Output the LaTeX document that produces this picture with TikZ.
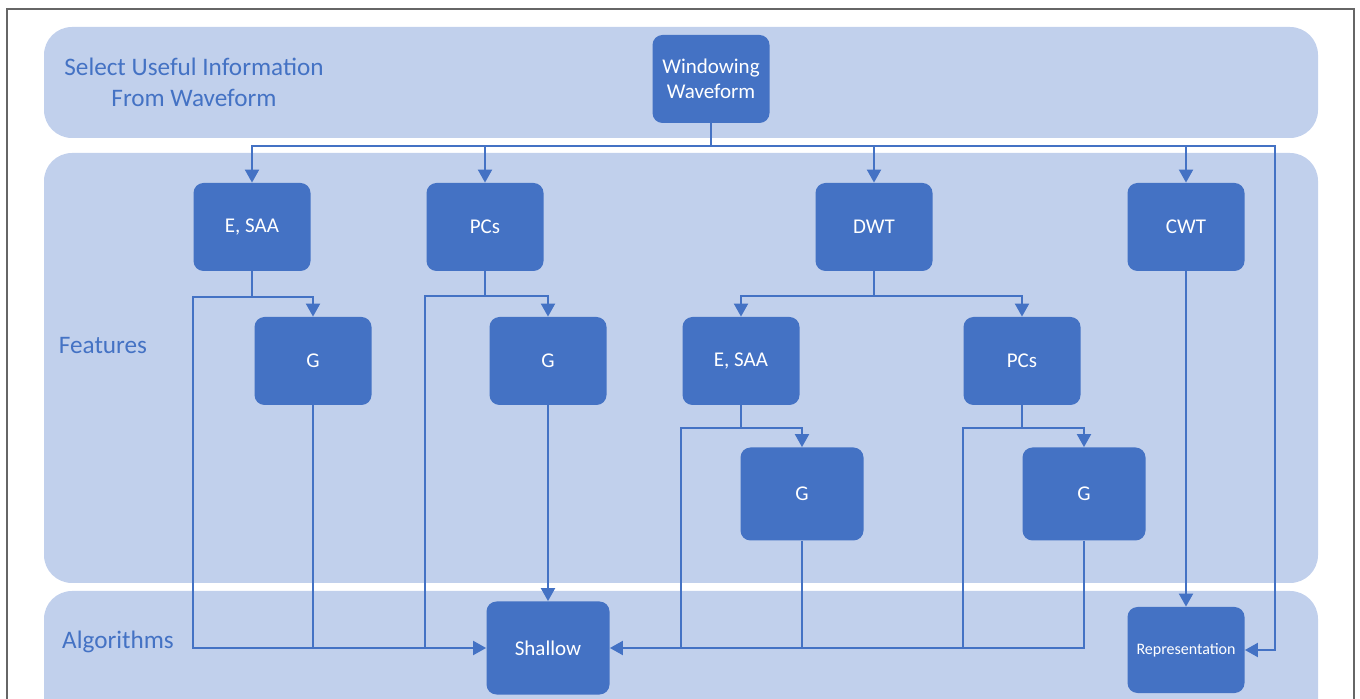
\documentclass[tikz,border=0pt]{standalone}
\usepackage{fontspec}
\setmainfont{Carlito}
\usetikzlibrary{arrows.meta}
\definecolor{bandblue}{HTML}{C1D0EC}
\definecolor{boxblue}{HTML}{4472C4}
\tikzset{
  band/.style={fill=bandblue,rounded corners=14pt},
  blk/.style={fill=boxblue,rounded corners=5pt,text=white,inner sep=0pt,
    minimum width=58.5pt,minimum height=44pt,align=center,
    font=\fontsize{10.5}{12.5}\selectfont},
  bigblk/.style={blk,minimum width=61.5pt,minimum height=46.5pt},
  lbl/.style={text=boxblue,align=center,font=\fontsize{12.6}{15.5}\selectfont},
  wire/.style={draw=boxblue,line width=1pt},
  arr/.style={wire,-{Triangle[length=6.5pt,width=7pt]}}
}
\begin{document}
\begin{tikzpicture}[x=0.5pt,y=-0.5pt]
\useasboundingbox (0,0) rectangle (1360,699);
\clip (0,0) rectangle (1360,699);
\draw[black!60,line width=0.6pt] (7,9) rectangle (1354,720);
% bands
\fill[band] (44,27) rectangle (1318,138);
\fill[band] (44,153) rectangle (1318,583);
\fill[band] (44,591) rectangle (1318,740);
\node[lbl] (tsel) at (194,82) {Select Useful Information\\From Waveform};
\node[lbl] (tfeat) at (103,346) {Features};
\node[lbl] (talg) at (118,642) {Algorithms};
% boxes
\node[blk] (win) at (711,79) {Windowing\\Waveform};
\node[blk] (esaa) at (252,227) {E, SAA};
\node[blk] (pcs) at (485,227) {PCs};
\node[blk] (dwt) at (874,227) {DWT};
\node[blk] (cwt) at (1186,227) {CWT};
\node[blk] (ga) at (313,361) {G};
\node[blk] (gb) at (548,361) {G};
\node[blk] (desaa) at (741,361) {E, SAA};
\node[blk] (dpcs) at (1022,361) {PCs};
\node[bigblk] (gc) at (802,494) {G};
\node[bigblk] (gd) at (1084,494) {G};
\node[bigblk] (shallow) at (548,648) {Shallow};
\node[blk,minimum height=43pt,font=\fontsize{8}{9}\selectfont] (rep) at (1186,650) {Representation};
% bends
\coordinate (split) at (711,146);
\coordinate (rbend) at (1275,650);
\coordinate (sa) at (252,297);
\coordinate (la) at (193,648);
\coordinate (sb) at (485,296);
\coordinate (lb) at (425,648);
\coordinate (sd) at (874,296);
\coordinate (sc) at (741,428);
\coordinate (lc) at (681,648);
\coordinate (se) at (1022,428);
\coordinate (le) at (963,648);
% arrows
\draw[wire] (win) -- (split);
\foreach \n in {esaa,pcs,dwt,cwt}
  \draw[arr] (split) -| (\n);
\draw[arr] (split) -| (rbend) -- (rep);
\draw[wire] (esaa) -- (sa);
\draw[arr] (sa) -| (ga);
\draw[arr] (sa) -| (la) -- (shallow.west);
\draw[wire] (ga) -- (ga |- la);
\draw[wire] (pcs) -- (sb);
\draw[arr] (sb) -| (gb);
\draw[wire] (sb) -| (lb);
\draw[arr] (gb) -- (shallow);
\draw[wire] (dwt) -- (sd);
\draw[arr] (sd) -| (desaa);
\draw[arr] (sd) -| (dpcs);
\draw[wire] (desaa) -- (sc);
\draw[arr] (sc) -| (gc);
\draw[wire] (sc) -| (lc);
\draw[wire] (dpcs) -- (se);
\draw[arr] (se) -| (gd);
\draw[wire] (se) -| (le);
\draw[arr] (gd) |- (shallow.east);
\draw[wire] (gc) -- (gc |- shallow.east);
\draw[arr] (cwt) -- (rep);
\end{tikzpicture}
\end{document}
